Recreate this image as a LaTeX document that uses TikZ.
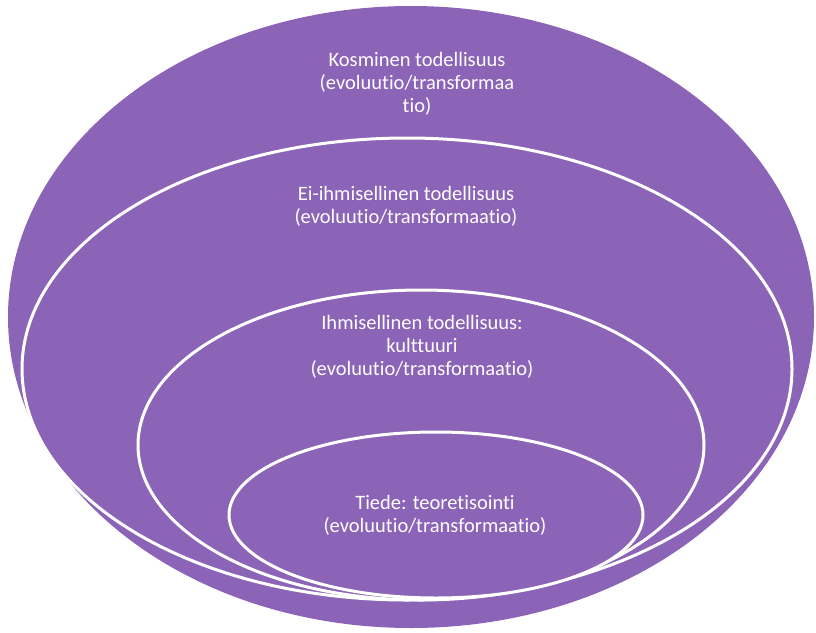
\documentclass[tikz,border=0pt]{standalone}
\usepackage{fontspec}
\setmainfont{Carlito}[Ligatures=NoCommon]
\usetikzlibrary{shapes.geometric}
\definecolor{ringpurple}{RGB}{139,99,183}
\tikzset{
  ring/.style={ellipse, fill=ringpurple, draw=white, line width=3pt, inner sep=0pt},
  outerring/.style={ellipse, fill=ringpurple, draw=none, inner sep=0pt},
  label/.style={text=white, align=center, font=\fontsize{20.5}{23}\selectfont, inner sep=0pt}
}
\begin{document}
\begin{tikzpicture}[x=1pt,y=-1pt]
\useasboundingbox (0,0) rectangle (816,632);
\node[outerring, minimum width=806pt, minimum height=622pt] (kos) at (411,317) {};
\node[ring, minimum width=770pt, minimum height=462pt] (ei) at (407,369) {};
\node[ring, minimum width=566pt, minimum height=310pt] (ihm) at (421,445) {};
\node[ring, minimum width=414pt, minimum height=166pt] (tie) at (436,515) {};
\node[label] (tkos) at (417,84) {Kosminen todellisuus\\(evoluutio/transformaa\\tio)};
\node[label] (tei) at (406,206) {Ei-ihmisellinen todellisuus\\(evoluutio/transformaatio)};
\node[label] (tihm) at (422,347) {Ihmisellinen todellisuus:\\kulttuuri\\(evoluutio/transformaatio)};
\node[label] (ttie) at (435,515) {Tiede: teoretisointi\\(evoluutio/transformaatio)};
\end{tikzpicture}
\end{document}
